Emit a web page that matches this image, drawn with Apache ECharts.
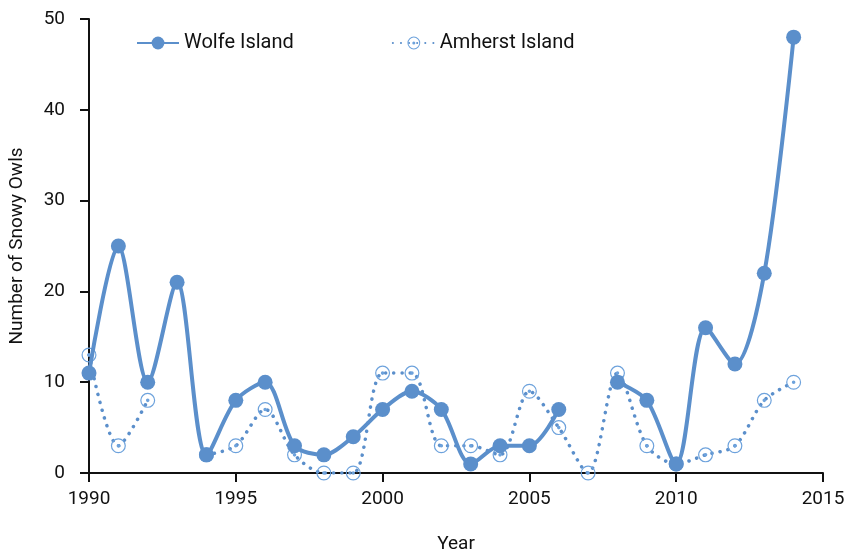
<!DOCTYPE html>
<html><head><meta charset="utf-8">
<script src="https://cdn.jsdelivr.net/npm/echarts@6/dist/echarts.min.js"></script>
<style>html,body{margin:0;padding:0;background:#fff}#c{width:849px;height:552px}</style>
</head><body><div id="c"></div>
<script>
const years = [1990,1991,1992,1993,1994,1995,1996,1997,1998,1999,2000,2001,2002,2003,2004,2005,2006,2007,2008,2009,2010,2011,2012,2013,2014];
const wolfe = [11,25,10,21,2,8,10,3,2,4,7,9,7,1,3,3,7,null,10,8,1,16,12,22,48];
const amherst = [13,3,8,null,2,3,7,2,0,0,11,11,3,3,2,9,5,0,11,3,1,2,3,8,10];
const xTicks = {min:1990, max:2015, interval:5};
const yTicks = {min:0, max:50, interval:10};
const seriesNames = ['Wolfe Island','Amherst Island'];

const FONT = "Roboto, 'Noto Sans', sans-serif";
const pair = arr => years.map((y,i)=>[y, arr[i]===null ? '-' : arr[i]]);
const ringDot = 'path://M10,0A10,10,0,1,1,10,20A10,10,0,1,1,10,0ZM10,1.6A8.4,8.4,0,1,0,10,18.4A8.4,8.4,0,1,0,10,1.6ZM10,7.6A2.4,2.4,0,1,1,10,12.4A2.4,2.4,0,1,1,10,7.6Z';

const chart = echarts.init(document.getElementById('c'), null, {renderer:'canvas'});
chart.setOption({
  animation:false,
  backgroundColor:'#fff',
  textStyle:{fontFamily:FONT},
  grid:{left:89, right:26, top:19, bottom:79, containLabel:false, outerBoundsMode:'none'},
  legend:{
    top:28, left:131, itemGap:98, itemWidth:42, itemHeight:16,
    textStyle:{fontFamily:FONT, fontSize:20, color:'#111'},
    data:seriesNames
  },
  xAxis:{
    type:'value', min:xTicks.min, max:xTicks.max, interval:xTicks.interval,
    name:'Year', nameLocation:'middle', nameGap:62,
    nameTextStyle:{fontFamily:FONT, fontSize:19, color:'#111'},
    axisLine:{show:true, lineStyle:{color:'#111', width:2}},
    axisTick:{show:true, length:9, lineStyle:{color:'#111', width:2}},
    axisLabel:{fontFamily:FONT, fontSize:19, color:'#111', margin:17, formatter: v => String(v)},
    splitLine:{show:false}
  },
  yAxis:{
    type:'value', min:yTicks.min, max:yTicks.max, interval:yTicks.interval,
    name:'Number of Snowy Owls', nameLocation:'middle', nameGap:62,
    nameTextStyle:{fontFamily:FONT, fontSize:19, color:'#111'},
    axisLine:{show:true, lineStyle:{color:'#111', width:2}},
    axisTick:{show:true, length:9, lineStyle:{color:'#111', width:2}},
    axisLabel:{fontFamily:FONT, fontSize:19, color:'#111', margin:24, formatter: v => String(v)},
    splitLine:{show:false}
  },
  series:[
    {
      name:seriesNames[0], type:'line', smooth:0.3, connectNulls:false,
      data:pair(wolfe), symbol:'circle', symbolSize:15,
      lineStyle:{color:'#5b8fcb', width:4},
      itemStyle:{color:'#5b8fcb'}, z:3
    },
    {
      name:seriesNames[1], type:'line', smooth:0.3, connectNulls:false,
      data:pair(amherst), symbol:ringDot, symbolSize:15,
      lineStyle:{color:'#5b8fcb', width:3.5, type:[0.1,8], cap:'round'},
      itemStyle:{color:'#6da2dc'}, z:2
    }
  ]
});
</script></body></html>
